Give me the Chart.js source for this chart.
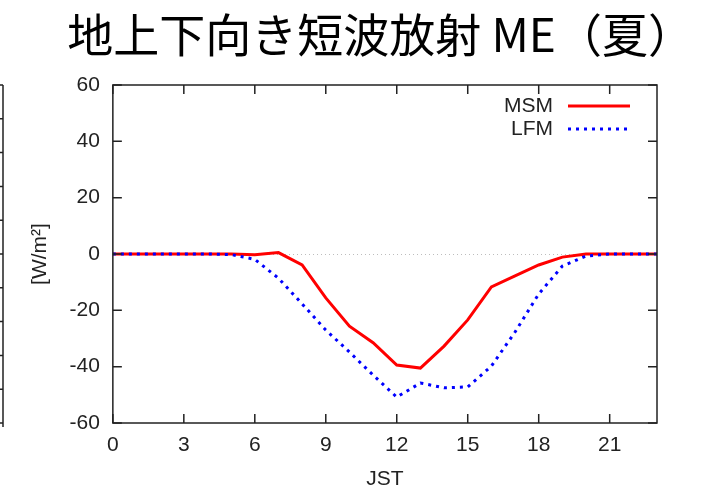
<!DOCTYPE html>
<html>
<head>
<meta charset="utf-8">
<script src="https://cdn.jsdelivr.net/npm/chart.js@4.4.0/dist/chart.umd.min.js"></script>
<style>
  html, body { margin: 0; padding: 0; background: #fff; }
  #wrap { width: 705px; height: 493px; }
</style>
</head>
<body>
<div id="wrap"><canvas id="myChart"></canvas></div>
<script>
// downward shortwave radiation at the surface, ME, summer (diurnal, JST)
const titleText = '地上下向き短波放射 ME（夏）';
const hours = [0, 1, 2, 3, 4, 5, 6, 7, 8, 9, 10, 11, 12, 13, 14, 15, 16, 17, 18, 19, 20, 21, 22, 23];
const xTicks = [0, 3, 6, 9, 12, 15, 18, 21];
const yTicks = [-60, -40, -20, 0, 20, 40, 60];
const msm = [0, 0, 0, 0, 0, 0, -0.3, 0.5, -3.9, -15.6, -25.6, -31.5, -39.4, -40.5, -32.7, -23.4, -11.7, -7.8, -3.9, -1.1, 0, 0, 0, 0];
const lfm = [0, 0, 0, 0, 0, -0.2, -1.9, -8.6, -17.7, -27, -34.8, -43, -50.8, -45.8, -47.5, -47.2, -39.8, -27.7, -14.2, -4.3, -0.7, 0, 0, 0];

const textColor = '#222';
const font = { family: '"Liberation Sans", Arial, sans-serif', size: 21, lineHeight: 1 };

// shift the title to where it sits on the slide
const titleShift = 52;
const titleShiftPlugin = {
    id: 'titleShift',
    afterLayout(chart) {
        const tb = chart.titleBlock;
        tb.left += titleShift;
        tb.right += titleShift;
    }
};

// gnuplot style frame with inward ticks on all four sides
const framePlugin = {
    id: 'frame',
    afterDatasetsDraw(chart) {
        const { ctx, chartArea: a, scales: { x, y } } = chart;
        const tl = 9;
        ctx.save();
        ctx.strokeStyle = textColor;
        ctx.lineWidth = 1.5;
        ctx.beginPath();
        xTicks.forEach(v => {
            const px = x.getPixelForValue(v);
            ctx.moveTo(px, a.bottom); ctx.lineTo(px, a.bottom - tl);
            ctx.moveTo(px, a.top); ctx.lineTo(px, a.top + tl);
        });
        yTicks.forEach(v => {
            const py = y.getPixelForValue(v);
            ctx.moveTo(a.left, py); ctx.lineTo(a.left + tl, py);
            ctx.moveTo(a.right, py); ctx.lineTo(a.right - tl, py);
        });
        ctx.stroke();
        ctx.strokeRect(a.left, a.top, a.width, a.height);

        // edge of the neighbouring panel on the slide
        ctx.beginPath();
        ctx.moveTo(3, a.top); ctx.lineTo(3, a.bottom + 4);
        for (let i = 0; i <= 10; i++) {
            const py = a.top + i * (a.height / 10);
            ctx.moveTo(0, py); ctx.lineTo(3, py);
        }
        ctx.stroke();
        ctx.restore();
    }
};

// legend: label right-aligned, line sample to its right
const lineLegendPlugin = {
    id: 'lineLegend',
    afterDraw(chart) {
        const { ctx, chartArea: a } = chart;
        ctx.save();
        ctx.font = font.size + 'px ' + font.family;
        ctx.textAlign = 'right';
        ctx.textBaseline = 'middle';
        chart.data.datasets.forEach((ds, i) => {
            const yy = a.top + 21 + i * 23;
            const x0 = a.right - 89;
            ctx.fillStyle = textColor;
            ctx.fillText(ds.label, x0 - 15, yy);
            ctx.strokeStyle = ds.borderColor;
            ctx.lineWidth = ds.borderWidth;
            ctx.setLineDash(ds.borderDash || []);
            ctx.beginPath();
            ctx.moveTo(x0, yy);
            ctx.lineTo(x0 + 62, yy);
            ctx.stroke();
        });
        ctx.restore();
    }
};

const chart = () => {
    const data = {
        datasets: [{
            label: 'MSM',
            data: hours.map((h, i) => ({ x: h, y: msm[i] })),
            borderColor: '#ff0000',
            borderWidth: 3,
            pointRadius: 0,
            tension: 0,
            order: 1
        }, {
            label: 'LFM',
            data: hours.map((h, i) => ({ x: h, y: lfm[i] })),
            borderColor: '#0000ff',
            borderWidth: 3,
            borderDash: [3, 5],
            pointRadius: 0,
            tension: 0,
            order: 0
        }]
    };
    const config = {
        type: 'line',
        data: data,
        plugins: [titleShiftPlugin, framePlugin, lineLegendPlugin],
        options: {
            responsive: true,
            maintainAspectRatio: false,
            devicePixelRatio: 1,
            animation: false,
            layout: { padding: { left: 0, right: 48, top: 0, bottom: 0 } },
            plugins: {
                legend: { display: false },
                tooltip: { enabled: false },
                title: {
                    display: true,
                    text: titleText,
                    color: '#000',
                    font: { family: '"Noto Sans CJK JP", sans-serif', size: 46, weight: 'normal', lineHeight: 1 },
                    padding: { top: 12, bottom: 27 }
                }
            },
            scales: {
                x: {
                    type: 'linear',
                    min: 0,
                    max: 23,
                    afterBuildTicks: s => { s.ticks = xTicks.map(v => ({ value: v })); },
                    grid: { display: false, drawTicks: false },
                    border: { display: false },
                    ticks: { padding: 11.5, color: textColor, font: font, maxRotation: 0 },
                    title: { display: true, text: 'JST', color: textColor, font: font, padding: { top: 1.5, bottom: 3.5 } }
                },
                y: {
                    min: -60,
                    max: 60,
                    afterBuildTicks: s => { s.ticks = yTicks.map(v => ({ value: v })); },
                    grid: {
                        drawTicks: false,
                        lineWidth: 1,
                        color: c => (c.tick && c.tick.value === 0) ? '#bdbdbd' : 'rgba(0,0,0,0)'
                    },
                    border: { display: false, dash: [1, 3] },
                    ticks: { padding: 13, color: textColor, font: font },
                    title: { display: true, text: '[W/m²]', color: textColor, font: font, padding: { top: 29.5, bottom: 6 } }
                }
            }
        }
    };
    const ctx = document.getElementById('myChart');
    new Chart(ctx, config);
};

chart();
</script>
</body>
</html>
